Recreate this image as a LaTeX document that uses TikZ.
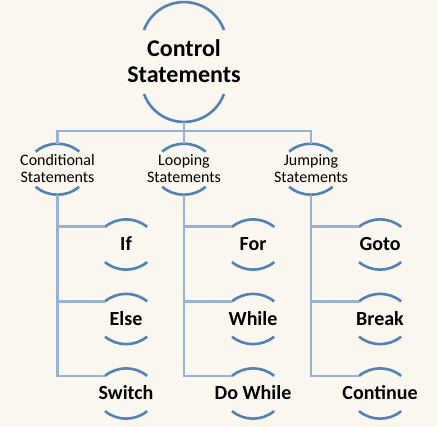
\documentclass[tikz,border=0pt]{standalone}
\usepackage{fontspec}
\setmainfont{Carlito}
\usetikzlibrary{calc}
\definecolor{bg}{RGB}{250,248,238}
\definecolor{arcblue}{RGB}{79,129,189}
\definecolor{linkblue}{RGB}{149,179,215}
\tikzset{
  arcline/.style={draw=arcblue, line width=2.6pt},
  link/.style={draw=linkblue, line width=2.8pt},
  lbl/.style={inner sep=0pt, align=center, text=black},
  rootfont/.style={font=\fontsize{24}{26}\selectfont\bfseries},
  midfont/.style={font=\fontsize{16}{17}\selectfont},
  leaffont/.style={font=\fontsize{20}{22}\selectfont\bfseries},
}
% #1 name, #2 cx, #3 cy, #4 half chord, #5 end offset, #6 radius, #7 half angle
\newcommand\ringarcs[7]{%
  \draw[arcline] ({#2-#4},{#3+#5}) arc[start angle={90+#7}, end angle={90-#7}, radius=#6pt];
  \draw[arcline] ({#2-#4},{#3-#5}) arc[start angle={270-#7}, end angle={270+#7}, radius=#6pt];
  \coordinate (#1-tl) at ({#2-#4},{#3+#5});
  \coordinate (#1-top) at ({#2},{#3+#5+#6-#6*cos(#7)});
  \coordinate (#1-bot) at ({#2},{#3-#5-#6+#6*cos(#7)});
}
\begin{document}
\begin{tikzpicture}[x=1pt,y=1pt]
\fill[bg] (0,0) rectangle (438,-427);
\useasboundingbox (0,0) rectangle (438,-427);

% arcs and anchor coordinates
\ringarcs{root}{184}{-62}{40}{32}{42.6}{69.9}
\ringarcs{cond}{57.5}{-169.2}{21.8}{17.6}{33.8}{40}
\ringarcs{loop}{184}{-169.2}{21.8}{17.6}{33.8}{40}
\ringarcs{jump}{311}{-169.2}{21.8}{17.6}{33.8}{40}
\ringarcs{if}{126}{-244.5}{21}{17.6}{33.2}{39.4}
\ringarcs{else}{126}{-319}{21}{17.6}{33.2}{39.4}
\ringarcs{switch}{126}{-393.5}{21}{17.6}{33.2}{39.4}
\ringarcs{for}{253}{-244.5}{21}{17.6}{33.2}{39.4}
\ringarcs{while}{253}{-319}{21}{17.6}{33.2}{39.4}
\ringarcs{dowhile}{253}{-393.5}{21}{17.6}{33.2}{39.4}
\ringarcs{goto}{380}{-244.5}{21}{17.6}{33.2}{39.4}
\ringarcs{break}{380}{-319}{21}{17.6}{33.2}{39.4}
\ringarcs{continue}{380}{-393.5}{21}{17.6}{33.2}{39.4}

\coordinate (bus) at (184,-131);

% connectors
\draw[link] (root-bot) -- (loop-top);
\draw[link] (cond-top) -- (cond-top |- bus) -- (jump-top |- bus) -- (jump-top);
\draw[link] (cond-bot) |- (if-tl);
\draw[link] (cond-bot) |- (else-tl);
\draw[link] (cond-bot) |- (switch-tl);
\draw[link] (loop-bot) |- (for-tl);
\draw[link] (loop-bot) |- (while-tl);
\draw[link] (loop-bot) |- (dowhile-tl);
\draw[link] (jump-bot) |- (goto-tl);
\draw[link] (jump-bot) |- (break-tl);
\draw[link] (jump-bot) |- (continue-tl);

% labels
\node[lbl,rootfont] (rootT) at (184,-61) {Control\\Statements};
\node[lbl,midfont] (condT) at (57.5,-169) {Conditional\\Statements};
\node[lbl,midfont] (loopT) at (184,-169) {Looping\\Statements};
\node[lbl,midfont] (jumpT) at (311,-169) {Jumping\\Statements};
\node[lbl,leaffont] (ifT) at (126,-244) {If};
\node[lbl,leaffont] (elseT) at (126,-318.5) {Else};
\node[lbl,leaffont] (switchT) at (126,-393) {Switch};
\node[lbl,leaffont] (forT) at (253,-244) {For};
\node[lbl,leaffont] (whileT) at (253,-318.5) {While};
\node[lbl,leaffont] (dowhileT) at (253,-393) {Do While};
\node[lbl,leaffont] (gotoT) at (380,-244) {Goto};
\node[lbl,leaffont] (breakT) at (380,-318.5) {Break};
\node[lbl,leaffont] (continueT) at (380,-393) {Continue};
\end{tikzpicture}
\end{document}
